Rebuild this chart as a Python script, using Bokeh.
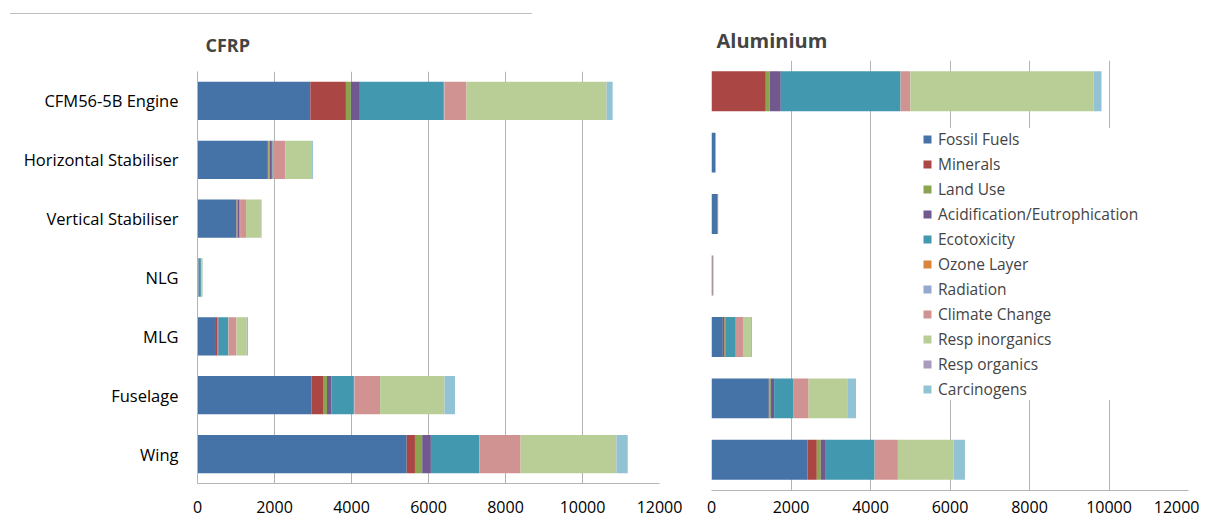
from bokeh.plotting import figure
from bokeh.models import Range1d, FactorRange, Legend, LegendItem, FixedTicker, ColumnDataSource, Div
from bokeh.layouts import row, column
from bokeh.embed import file_html
from bokeh.resources import INLINE

categories = ["CFM56-5B Engine", "Horizontal Stabiliser", "Vertical Stabiliser", "NLG", "MLG", "Fuselage", "Wing"]
series_names = ["Fossil Fuels", "Minerals", "Land Use", "Acidification/Eutrophication", "Ecotoxicity",
                "Ozone Layer", "Radiation", "Climate Change", "Resp inorganics", "Resp organics", "Carcinogens"]
series_keys = ["fossil", "minerals", "land", "acid", "ecotox", "ozone", "radiation", "climate", "respinorg", "resporg", "carc"]
colors = ["#4572A7", "#AA4643", "#89A54E", "#71588F", "#4198AF", "#DB843D",
          "#93A9CF", "#D19392", "#B9CD96", "#A99BBD", "#92C3D5"]
x_ticks = [0, 2000, 4000, 6000, 8000, 10000, 12000]

# CFRP values, per category (same order as categories)
cfrp_fossil = [2931, 1827, 1010, 25, 480, 2965, 5433]
cfrp_minerals = [924, 15, 10, 3, 40, 295, 215]
cfrp_land = [129, 30, 30, 2, 10, 103, 189]
cfrp_acid = [233, 60, 40, 3, 20, 119, 225]
cfrp_ecotox = [2181, 20, 10, 55, 250, 580, 1260]
cfrp_ozone = [10, 5, 3, 1, 5, 5, 5]
cfrp_radiation = [10, 5, 3, 1, 5, 10, 10]
cfrp_climate = [567, 320, 155, 15, 200, 665, 1054]
cfrp_respinorg = [3638, 690, 385, 25, 270, 1672, 2484]
cfrp_resporg = [5, 5, 3, 1, 3, 5, 8]
cfrp_carc = [155, 25, 15, 5, 30, 270, 292]

# Aluminium values
alu_fossil = [0, 90, 145, 20, 285, 1442, 2414]
alu_minerals = [1366, 5, 3, 10, 45, 15, 235]
alu_land = [100, 2, 2, 1, 10, 35, 101]
alu_acid = [277, 3, 12, 2, 15, 83, 125]
alu_ecotox = [3010, 2, 2, 2, 255, 490, 1228]
alu_ozone = [5, 5, 1, 1, 3, 3, 3]
alu_radiation = [5, 1, 1, 1, 3, 5, 5]
alu_climate = [240, 2, 2, 10, 176, 370, 578]
alu_respinorg = [4610, 1, 1, 5, 200, 988, 1400]
alu_resporg = [5, 0, 0, 0, 2, 2, 2]
alu_carc = [194, 0, 0, 1, 25, 202, 285]

cfrp_vals = [cfrp_fossil, cfrp_minerals, cfrp_land, cfrp_acid, cfrp_ecotox, cfrp_ozone,
             cfrp_radiation, cfrp_climate, cfrp_respinorg, cfrp_resporg, cfrp_carc]
alu_vals = [alu_fossil, alu_minerals, alu_land, alu_acid, alu_ecotox, alu_ozone,
            alu_radiation, alu_climate, alu_respinorg, alu_resporg, alu_carc]

FONT = "Open Sans"
GRID = "#b4b4b4"


def make_fig(title, vals, width, height, bl, br, bt, bb, title_offset, title_standoff, title_size,
             show_labels, standoff):
    src = ColumnDataSource(dict(cat=categories, **{k: v for k, v in zip(series_keys, vals)}))
    p = figure(width=width, height=height, output_backend="svg", toolbar_location=None,
               y_range=FactorRange(factors=list(reversed(categories))),
               x_range=Range1d(0, 12000),
               min_border_left=bl, min_border_right=br, min_border_top=bt, min_border_bottom=bb)
    rs = p.hbar_stack(series_keys, y="cat", height=0.65, color=colors, source=src, line_color=None)
    p.title.text = title
    p.title.text_font = FONT
    p.title.text_font_style = "bold"
    p.title.text_font_size = title_size
    p.title.align = "left"
    p.title.offset = title_offset
    p.title.standoff = title_standoff
    p.outline_line_color = None
    p.ygrid.visible = False
    p.xgrid.grid_line_color = GRID
    p.xgrid.ticker = FixedTicker(ticks=x_ticks)
    p.xaxis.ticker = FixedTicker(ticks=x_ticks)
    p.xaxis.axis_line_color = GRID
    p.xaxis.major_tick_line_color = None
    p.xaxis.minor_tick_line_color = None
    p.xaxis.major_tick_in = 0
    p.xaxis.major_tick_out = 0
    p.xaxis.major_label_text_font = FONT
    p.xaxis.major_label_text_font_size = "16px"
    p.xaxis.major_label_text_color = "black"
    p.xaxis.major_label_standoff = standoff
    if show_labels:
        p.yaxis.axis_line_color = GRID
        p.yaxis.major_tick_line_color = None
        p.yaxis.minor_tick_line_color = None
        p.yaxis.major_tick_in = 0
        p.yaxis.major_tick_out = 0
        p.yaxis.major_label_text_font = FONT
        p.yaxis.major_label_text_font_size = "16.5px"
        p.yaxis.major_label_text_color = "black"
        p.yaxis.major_label_standoff = 19
    else:
        p.yaxis.visible = False
    return p, rs


p1, _ = make_fig("CFRP", cfrp_vals, 688, 506, 197, 29, 54, 39, 8, 29, "18px", True, 17)
p2, rs2 = make_fig("Aluminium", alu_vals, 511, 522, 23, 11, 60, 32, 5, 14, "20px", False, 10)

legend = Legend(items=[LegendItem(label=n, renderers=[r]) for n, r in zip(series_names, rs2)],
                location=(211, 90), padding=7, margin=0, spacing=3,
                label_height=20, glyph_height=10, glyph_width=10, label_standoff=6,
                label_text_font=FONT, label_text_font_size="15.5px",
                background_fill_color="white", background_fill_alpha=1.0,
                border_line_color=None)
p2.add_layout(legend, "center")

line_div = Div(text='<div style="width:522px;height:14px;border-bottom:1px solid #bfbfbf;margin-left:10px"></div>',
               width=688, height=16, margin=0)

layout = row(column(line_div, p1), p2)
open("out.html", "w").write(file_html(layout, INLINE))
